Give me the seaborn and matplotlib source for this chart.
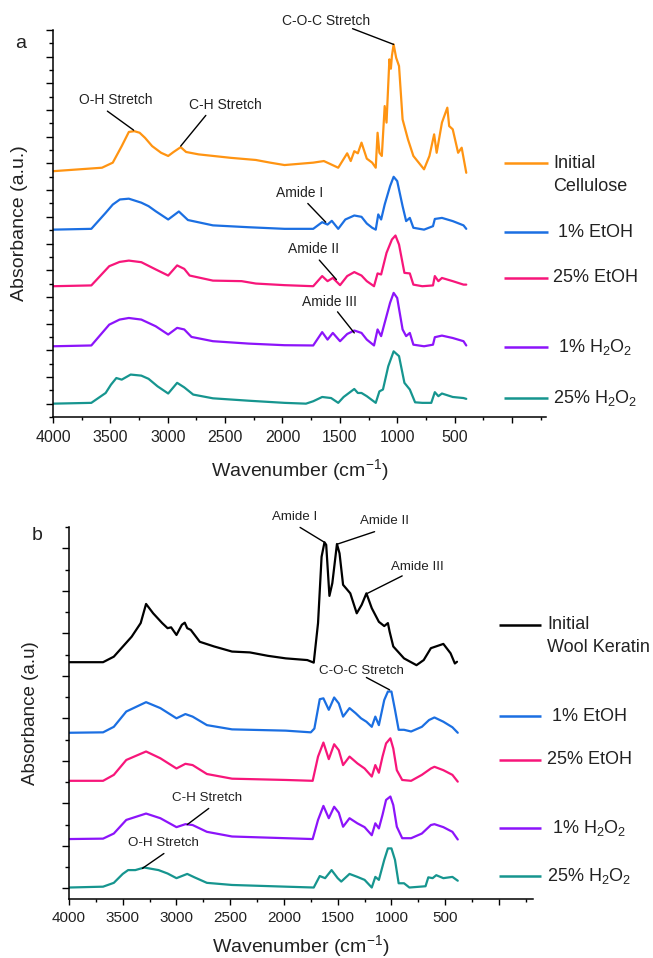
import numpy as np
import pandas as pd
import matplotlib
matplotlib.use("Agg")
import matplotlib.pyplot as plt
import matplotlib.transforms as mtransforms
from matplotlib.ticker import MultipleLocator, FixedLocator, FixedFormatter
import seaborn as sns

# ---------------- data: panel a (cellulose) ----------------
a_init_wn = [4000, 3573, 3479, 3401, 3339, 3292, 3245, 3198, 3136, 3058, 2996, 2949, 2887, 2840, 2731, 2450, 2232, 2107,
             1982, 1732, 1639, 1514, 1436, 1405, 1374, 1343, 1311, 1265, 1218, 1187, 1171, 1155, 1134,
             1109, 1093, 1068, 1055, 1046, 1031, 1009, 984, 953, 906, 859, 766, 719, 678, 656, 610,
             563, 547, 516, 469, 438, 398]
a_init_ab = [8.71, 8.84, 9.03, 9.65, 10.18, 10.21, 10.15, 9.96, 9.65, 9.40, 9.28, 9.43, 9.61, 9.43, 9.34, 9.21, 9.13, 9.03,
             8.94, 9.03, 9.09, 8.84, 9.38, 9.09, 9.46, 9.38, 9.78, 9.18, 9.03, 8.84, 10.15, 9.40, 9.28,
             11.15, 10.53, 12.90, 12.55, 13.03, 13.46, 12.96, 12.65, 10.65, 9.90, 9.28, 8.78, 9.28, 10.09, 9.40, 10.53,
             11.09, 10.40, 10.28, 9.40, 9.59, 8.65]

a_e1_wn = [4000, 3666, 3541, 3479, 3417, 3339, 3230, 3167, 3105, 2996, 2903, 2824, 2606, 2294, 1982, 1732, 1654, 1607,
           1570, 1514, 1452, 1374, 1311, 1265, 1218, 1187, 1165, 1140, 1109, 1062, 1031, 1000, 953,
           922, 890, 859, 766, 688, 672, 610, 516, 422, 398]
a_e1_ab = [6.52, 6.55, 7.15, 7.46, 7.65, 7.68, 7.53, 7.40, 7.21, 6.90, 7.20, 6.88, 6.68, 6.61, 6.55, 6.55, 6.80, 6.71,
           6.85, 6.55, 6.90, 7.05, 7.00, 6.75, 6.59, 6.52, 7.09, 6.90, 7.46, 8.15, 8.50, 8.34, 7.40,
           6.84, 6.96, 6.59, 6.52, 6.65, 6.92, 6.96, 6.84, 6.68, 6.55]

a_e25_wn = [4000, 3666, 3510, 3420, 3339, 3230, 3105, 2996, 2918, 2856, 2809, 2606, 2356, 2232, 1982, 1732,
            1654, 1607, 1561, 1498, 1436, 1374, 1311, 1265, 1202, 1171, 1140, 1093, 1046, 1015, 984,
            937, 890, 859, 781, 688, 672, 641, 610, 516, 422, 398]
a_e25_ab = [4.40, 4.43, 5.15, 5.31, 5.36, 5.30, 5.03, 4.80, 5.18, 5.05, 4.80, 4.61, 4.59, 4.50, 4.44, 4.40,
            4.78, 4.59, 4.71, 4.44, 4.78, 4.93, 4.80, 4.59, 4.40, 4.88, 4.84, 5.65, 6.15, 6.30, 5.96,
            4.90, 4.88, 4.46, 4.40, 4.43, 4.78, 4.59, 4.71, 4.59, 4.46, 4.46]

a_h1_wn = [4000, 3666, 3510, 3420, 3339, 3230, 3105, 2996, 2918, 2856, 2793, 2606, 2294, 1982, 1732, 1654,
           1607, 1561, 1498, 1436, 1374, 1311, 1265, 1202, 1171, 1140, 1109, 1062, 1031, 1000, 953,
           922, 890, 859, 766, 688, 672, 610, 516, 422, 398]
a_h1_ab = [2.15, 2.18, 2.96, 3.15, 3.21, 3.15, 2.90, 2.59, 2.84, 2.78, 2.50, 2.34, 2.25, 2.19, 2.18, 2.68,
           2.40, 2.65, 2.34, 2.61, 2.74, 2.65, 2.40, 2.18, 2.78, 2.53, 3.03, 3.78, 4.15, 3.96, 2.78,
           2.53, 2.65, 2.21, 2.15, 2.21, 2.49, 2.55, 2.46, 2.34, 2.18]

a_h25_wn = [4000, 3666, 3541, 3495, 3448, 3401, 3323, 3230, 3167, 3089, 2996, 2918, 2856, 2778, 2606,
            2294, 1982, 1795, 1732, 1654, 1576, 1514, 1467, 1374, 1343, 1311, 1265, 1187, 1155, 1124,
            1078, 1031, 984, 937, 890, 844, 781, 703, 672, 641, 610, 516, 422, 398]
a_h25_ab = [0.00, 0.03, 0.40, 0.71, 0.96, 0.90, 1.09, 1.05, 0.93, 0.65, 0.38, 0.78, 0.61, 0.34, 0.20,
            0.11, 0.03, 0.00, 0.09, 0.25, 0.21, 0.03, 0.25, 0.55, 0.40, 0.40, 0.28, 0.03, 0.46, 0.53,
            1.40, 1.96, 1.78, 0.78, 0.53, 0.05, 0.03, 0.03, 0.43, 0.28, 0.38, 0.25, 0.21, 0.18]

# ---------------- data: panel b (wool keratin) ----------------
b_init_wn = [4000, 3683, 3583, 3417, 3333, 3283, 3217, 3133, 3083, 3050, 3000, 2950, 2923, 2900, 2867,
             2783, 2650, 2483, 2317, 2150, 1983, 1783, 1723, 1683, 1650, 1623, 1607, 1577, 1550, 1507,
             1483, 1450, 1423, 1383, 1323, 1277, 1233, 1183, 1117, 1067, 1033, 1017, 983, 883, 767,
             700, 633, 517, 450, 410, 390]
b_init_ab = [5.32, 5.32, 5.45, 5.92, 6.24, 6.69, 6.47, 6.24, 6.12, 6.14, 5.96, 6.20, 6.25, 6.12, 6.08,
             5.80, 5.69, 5.57, 5.55, 5.47, 5.41, 5.37, 5.31, 6.24, 7.80, 8.14, 8.08, 6.88, 7.18, 8.10,
             7.88, 7.14, 7.06, 6.94, 6.47, 6.67, 6.94, 6.59, 6.27, 6.17, 6.24, 6.04, 5.69, 5.41, 5.25,
             5.37, 5.65, 5.75, 5.53, 5.29, 5.33]

b_e1_wn = [4000, 3683, 3583, 3467, 3283, 3150, 3000, 2917, 2850, 2717, 2483, 1983, 1750, 1717, 1667,
           1633, 1583, 1533, 1490, 1450, 1390, 1333, 1283, 1233, 1183, 1150, 1117, 1067, 1033, 1000,
           967, 933, 883, 817, 717, 650, 600, 517, 433, 383]
b_e1_ab = [3.66, 3.67, 3.80, 4.16, 4.38, 4.24, 4.00, 4.10, 4.04, 3.84, 3.74, 3.71, 3.67, 3.76, 4.45,
           4.47, 4.20, 4.49, 4.35, 4.04, 4.24, 4.12, 4.00, 3.92, 3.80, 4.04, 3.84, 4.43, 4.63, 4.63,
           4.20, 3.73, 3.73, 3.69, 3.80, 3.96, 4.02, 3.92, 3.79, 3.66]

b_e25_wn = [4000, 3683, 3583, 3467, 3283, 3150, 3000, 2917, 2850, 2717, 2483, 1983, 1733, 1683, 1633,
            1583, 1533, 1490, 1450, 1390, 1317, 1250, 1183, 1150, 1117, 1083, 1050, 1010, 983, 950,
            900, 817, 717, 633, 600, 517, 433, 383]
b_e25_ab = [2.53, 2.53, 2.67, 3.02, 3.22, 3.06, 2.82, 2.93, 2.90, 2.69, 2.58, 2.55, 2.53, 3.10, 3.43,
            3.04, 3.39, 3.25, 2.90, 3.10, 2.94, 2.82, 2.63, 2.90, 2.72, 3.10, 3.41, 3.53, 3.29, 2.78,
            2.55, 2.53, 2.67, 2.82, 2.86, 2.78, 2.67, 2.51]

b_h1_wn = [4000, 3683, 3583, 3467, 3283, 3150, 3000, 2917, 2850, 2717, 2483, 1983, 1733, 1683, 1633,
           1583, 1533, 1490, 1450, 1390, 1317, 1250, 1183, 1150, 1117, 1083, 1050, 1010, 983, 950,
           900, 817, 717, 633, 600, 517, 433, 383]
b_h1_ab = [1.16, 1.17, 1.29, 1.61, 1.76, 1.65, 1.44, 1.51, 1.49, 1.33, 1.22, 1.18, 1.16, 1.61, 1.94,
           1.65, 1.92, 1.78, 1.45, 1.65, 1.53, 1.44, 1.25, 1.53, 1.41, 1.73, 2.08, 2.16, 1.96, 1.45,
           1.18, 1.18, 1.29, 1.49, 1.51, 1.44, 1.33, 1.15]

b_h25_wn = [4000, 3683, 3583, 3500, 3450, 3383, 3300, 3167, 3083, 3000, 2900, 2833, 2717, 2483, 1983,
            1723, 1667, 1617, 1557, 1500, 1467, 1390, 1317, 1250, 1183, 1150, 1117, 1067, 1033, 1000,
            967, 933, 883, 833, 683, 657, 617, 583, 517, 433, 383]
b_h25_ab = [0.02, 0.04, 0.13, 0.34, 0.43, 0.43, 0.49, 0.43, 0.35, 0.24, 0.34, 0.26, 0.13, 0.08, 0.04,
            0.02, 0.29, 0.24, 0.43, 0.24, 0.16, 0.34, 0.27, 0.20, 0.02, 0.27, 0.20, 0.67, 0.94, 0.94,
            0.67, 0.12, 0.12, 0.02, 0.05, 0.26, 0.24, 0.31, 0.24, 0.27, 0.18]

labels_a = ["Initial\nCellulose", " 1% EtOH", "25% EtOH", " 1% H$_2$O$_2$", "25% H$_2$O$_2$"]
labels_b = ["Initial\nWool Keratin", " 1% EtOH", "25% EtOH", " 1% H$_2$O$_2$", "25% H$_2$O$_2$"]
colors_a = ["#FF9412", "#1B6FE2", "#F7167A", "#8C14FA", "#16958F"]
colors_b = ["#000000", "#1B6FE2", "#F7167A", "#8C14FA", "#16958F"]
xtick_vals = [4000, 3500, 3000, 2500, 2000, 1500, 1000, 500, 0]
xtick_text = ["4000", "3500", "3000", "2500", "2000", "1500", "1000", "500", ""]

# annotations: label, text position, line start, line end (data coordinates)
ann_a = [("C-O-C Stretch", (1623, 14.34), (1389, 14.05), (1031, 13.46)),
         ("O-H Stretch", (3454, 11.38), (3526, 10.96), (3298, 10.25)),
         ("C-H Stretch", (2497, 11.20), (2668, 10.80), (2887, 9.65)),
         ("Amide I", (1851, 7.88), (1779, 7.50), (1623, 6.80)),
         ("Amide II", (1733, 5.78), (1679, 5.38), (1530, 4.65)),
         ("Amide III", (1592, 3.81), (1520, 3.44), (1374, 2.65))]
ann_b = [("Amide I", (1900, 8.73), (1850, 8.49), (1623, 8.14)),
         ("Amide II", (1067, 8.63), (1157, 8.39), (1500, 8.10)),
         ("Amide III", (757, 7.55), (900, 7.35), (1223, 6.94)),
         ("C-O-C Stretch", (1283, 5.12), (1233, 4.96), (1017, 4.67)),
         ("C-H Stretch", (2717, 2.12), (2700, 1.88), (2900, 1.50)),
         ("O-H Stretch", (3123, 1.06), (3117, 0.82), (3317, 0.47))]

# legend placement (layout)
leg_a_y = [9.01, 6.42, 4.72, 2.11, 0.22]
leg_b_y = [6.20, 4.05, 3.02, 1.42, 0.29]

sns.set_theme(style="ticks")
plt.rcParams["font.family"] = ["Liberation Sans", "DejaVu Sans"]
plt.rcParams["mathtext.fontset"] = "custom"
plt.rcParams["mathtext.rm"] = "Liberation Sans"
plt.rcParams["mathtext.it"] = "Liberation Sans:italic"
plt.rcParams["mathtext.bf"] = "Liberation Sans:bold"

fig = plt.figure(figsize=(6.53, 9.58), dpi=100)
ax_a = fig.add_axes([53 / 653, 1 - 417 / 958, 493 / 653, 387 / 958])
ax_b = fig.add_axes([69 / 653, 1 - 899 / 958, 464 / 653, 372 / 958])


def make_df(series, labels):
    frames = []
    for (wn, ab), lab in zip(series, labels):
        frames.append(pd.DataFrame({"wn": wn, "ab": ab, "sample": lab}))
    return pd.concat(frames, ignore_index=True)


df_a = make_df([(a_init_wn, a_init_ab), (a_e1_wn, a_e1_ab), (a_e25_wn, a_e25_ab),
                (a_h1_wn, a_h1_ab), (a_h25_wn, a_h25_ab)], labels_a)
df_b = make_df([(b_init_wn, b_init_ab), (b_e1_wn, b_e1_ab), (b_e25_wn, b_e25_ab),
                (b_h1_wn, b_h1_ab), (b_h25_wn, b_h25_ab)], labels_b)


def style_panel(ax, df, labels, colors, ylim, ymaj, xright, ann, leg_y, leg_x, ylab,
                ylab_x, xlab_y, tick_fs, ann_fs, ylab_fs, pad):
    sns.lineplot(data=df, x="wn", y="ab", hue="sample", palette=dict(zip(labels, colors)),
                 hue_order=labels, estimator=None, sort=False, legend=False, lw=1.6, ax=ax)
    for ln in ax.get_lines():
        ln.set_solid_joinstyle("round")
    ax.set_xlim(4000, xright)
    ax.set_ylim(*ylim)
    sns.despine(ax=ax)
    for s in ("left", "bottom"):
        ax.spines[s].set_linewidth(1.1)
        ax.spines[s].set_color("black")
    ax.xaxis.set_major_locator(FixedLocator(xtick_vals))
    ax.xaxis.set_major_formatter(FixedFormatter(xtick_text))
    ax.xaxis.set_minor_locator(MultipleLocator(250))
    ax.yaxis.set_major_locator(MultipleLocator(ymaj))
    ax.yaxis.set_minor_locator(MultipleLocator(ymaj / 2))
    ax.set_yticklabels([])
    ax.tick_params(axis="x", which="major", length=4.2, width=1.0, direction="out",
                   labelsize=tick_fs, pad=pad, color="black", labelcolor="#222222")
    ax.tick_params(axis="x", which="minor", length=2.2, width=1.0, direction="out", color="black")
    ax.tick_params(axis="y", which="major", length=5.0, width=1.0, direction="out", color="black")
    ax.tick_params(axis="y", which="minor", length=2.6, width=1.0, direction="out", color="black")
    ax.set_xlabel("Wavenumber (cm$^{-1}$)", fontsize=14, color="#222222")
    ax.xaxis.set_label_coords(0.5, xlab_y)
    ax.set_ylabel(ylab, fontsize=ylab_fs, color="#222222")
    ax.yaxis.set_label_coords(ylab_x, 0.5)
    for lab, txy, p0, p1 in ann:
        ax.annotate("", xy=p1, xytext=p0, xycoords="data", textcoords="data",
                    arrowprops=dict(arrowstyle="-", color="black", lw=1.0, shrinkA=0, shrinkB=0),
                    annotation_clip=False)
        ax.text(txy[0], txy[1], lab, fontsize=ann_fs, ha="center", va="center",
                color="#222222", clip_on=False)
    blend = mtransforms.blended_transform_factory(ax.transAxes, ax.transData)
    for lab, col, y in zip(labels, colors, leg_y):
        ax.plot([leg_x[0], leg_x[1]], [y, y], color=col, lw=1.8, transform=blend, clip_on=False,
                solid_capstyle="butt")
        lines = lab.split("\n")
        ax.text(leg_x[2], y, lines[0], fontsize=13, ha="left", va="center", transform=blend,
                color="#222222", clip_on=False)
        if len(lines) > 1:
            off = mtransforms.offset_copy(blend, fig=ax.figure, x=0, y=-23, units="dots")
            ax.text(leg_x[2], y, lines[1], fontsize=13, ha="left", va="center", transform=off,
                    color="#222222", clip_on=False)


style_panel(ax_a, df_a, labels_a, colors_a, (-0.5, 14.0), 1.0, -297, ann_a, leg_a_y,
            (0.915, 1.005, 1.014), "Absorbance (a.u.)", -0.050, -0.104, 11.5, 10, 14, 5.0)
style_panel(ax_b, df_b, labels_b, colors_b, (-0.25, 8.5), 1.0, -317, ann_b, leg_b_y,
            (0.927, 1.017, 1.030), "Absorbance (a.u)", -0.064, -0.092, 11, 9.6, 13.5, 4.3)

fig.text(21 / 653, 1 - 43 / 958, "a", fontsize=14, ha="center", va="center", color="#222222")
fig.text(37 / 653, 1 - 535 / 958, "b", fontsize=14, ha="center", va="center", color="#222222")

fig.savefig("out.png", dpi=100, facecolor="white")
